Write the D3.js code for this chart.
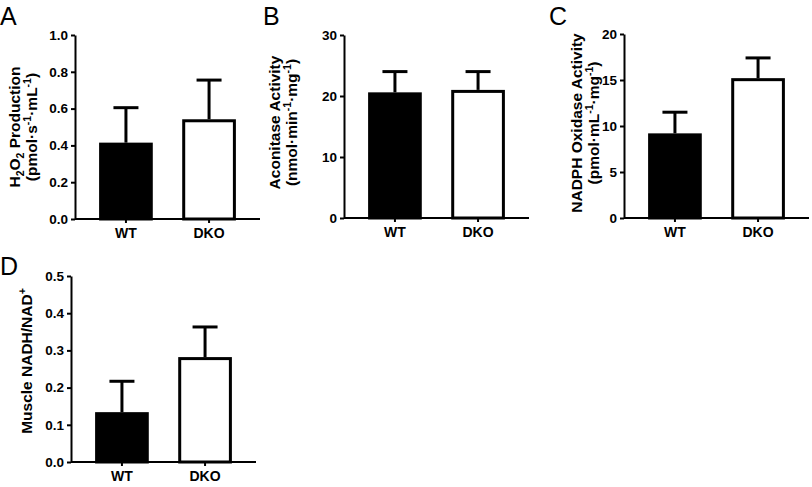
<!DOCTYPE html>
<html><head><meta charset="utf-8">
<script src="https://cdn.jsdelivr.net/npm/d3@7"></script>
<style>
html,body{margin:0;padding:0;background:#fff;}
svg{display:block;font-family:"Liberation Sans",Arial,sans-serif;}
</style></head>
<body>
<svg id="chart" width="812" height="487"></svg>
<script>
// ---- data ----
const groups = ["WT", "DKO"];
const h2o2Mean = [0.415, 0.542];
const h2o2Err = [0.19, 0.213];
const aconMean = [20.6, 21.0];
const aconErr = [3.4, 3.0];
const noxMean = [9.2, 15.2];
const noxErr = [2.3, 2.2];
const nadhMean = [0.134, 0.282];
const nadhErr = [0.083, 0.081];
const h2o2Ticks = [0, 0.2, 0.4, 0.6, 0.8, 1.0];
const aconTicks = [0, 10, 20, 30];
const noxTicks = [0, 5, 10, 15, 20];
const nadhTicks = [0, 0.1, 0.2, 0.3, 0.4, 0.5];
const fills = ["#000", "#fff"];

const svg = d3.select("#chart");
const FONT = '"Liberation Sans",Arial,sans-serif';

function panel(cfg){
  const g = svg.append("g");
  const x = d3.scaleBand().domain(groups).range([cfg.x0, cfg.x0 + 185]).paddingInner(0.354).paddingOuter(0.29);
  const y = d3.scaleLinear().domain([0, cfg.max]).range([cfg.yb, cfg.yt]);

  // bars
  g.selectAll("rect.bar").data(groups).enter().append("rect")
    .attr("x", d => x(d) + 1.5)
    .attr("width", x.bandwidth() - 3)
    .attr("y", (d,i) => y(cfg.mean[i]) + 1.5)
    .attr("height", (d,i) => y(0) - y(cfg.mean[i]) - 1.5)
    .attr("fill", (d,i) => fills[i])
    .attr("stroke", "#000").attr("stroke-width", 3);

  // error bars (upward only)
  groups.forEach((d,i) => {
    const cx = x(d) + x.bandwidth()/2;
    const top = y(cfg.mean[i] + cfg.err[i]);
    g.append("line").attr("x1", cx).attr("x2", cx)
      .attr("y1", y(cfg.mean[i])).attr("y2", top)
      .attr("stroke", "#000").attr("stroke-width", 3);
    g.append("line").attr("x1", cx - 12.5).attr("x2", cx + 12.5)
      .attr("y1", top).attr("y2", top)
      .attr("stroke", "#000").attr("stroke-width", 3);
  });

  // y axis
  const ya = g.append("g").attr("transform", `translate(${cfg.x0},0)`)
    .call(d3.axisLeft(y).tickValues(cfg.ticks).tickFormat(cfg.fmt).tickSize(4).tickSizeOuter(0).tickPadding(3));
  ya.select(".domain").attr("stroke-width", 2);
  ya.selectAll(".tick line").attr("stroke-width", 2);
  ya.selectAll("text").attr("font-size", 13.5).attr("font-weight", "bold").attr("fill", "#000")
    .attr("font-family", FONT);

  // x axis
  const xa = g.append("g").attr("transform", `translate(0,${cfg.yb})`)
    .call(d3.axisBottom(x).tickSize(4).tickSizeOuter(0).tickPadding(5));
  xa.select(".domain").attr("stroke-width", 2).attr("d", `M${cfg.x0},0H${cfg.x0 + 185}`);
  xa.selectAll(".tick line").attr("stroke-width", 2);
  xa.selectAll("text").attr("font-size", 14).attr("font-weight", "bold").attr("fill", "#000")
    .attr("font-family", FONT);

  // panel letter
  svg.append("text").attr("x", cfg.lx).attr("y", cfg.ly).attr("font-size", 25).text(cfg.letter);

  // y title
  const cy = (cfg.yt + cfg.yb)/2 + (cfg.tdy || 0);
  cfg.title.forEach((line, li) => {
    const t = svg.append("text")
      .attr("transform", `translate(${cfg.tx[li]},${cy}) rotate(-90)`)
      .attr("text-anchor", "middle").attr("font-size", 15.5).attr("font-weight", "bold");
    let pending = 0;
    line.forEach(seg => {
      if (typeof seg === "string") {
        t.append("tspan").attr("dy", pending).text(seg); pending = 0;
      } else if (seg.sub) {
        t.append("tspan").attr("font-size", 10.5).attr("dy", pending + 4).text(seg.sub); pending = -4;
      } else if (seg.sup) {
        t.append("tspan").attr("font-size", 10.5).attr("dy", pending - 6).text(seg.sup); pending = 6;
      }
    });
  });
}

const f1 = d3.format(".1f"), f0 = d3.format("d");

panel({letter:"A", lx:0, ly:25, x0:75, yt:35, yb:219, max:1.0, ticks:h2o2Ticks, fmt:f1,
  mean:h2o2Mean, err:h2o2Err, tx:[20, 37],
  title:[["H", {sub:"2"}, "O", {sub:"2"}, " Production"], ["(pmol\u00B7s", {sup:"-1"}, "\u00B7mL", {sup:"-1"}, ")"]]});
panel({letter:"B", lx:263, ly:25, x0:344, yt:35, yb:218, max:30, ticks:aconTicks, fmt:f0,
  mean:aconMean, err:aconErr, tx:[280, 297], tdy:-4,
  title:[["Aconitase Activity"], ["(nmol\u00B7min", {sup:"-1"}, "\u00B7mg", {sup:"-1"}, ")"]]});
panel({letter:"C", lx:549, ly:25, x0:624, yt:34, yb:218, max:20, ticks:noxTicks, fmt:f0,
  mean:noxMean, err:noxErr, tx:[582, 599], tdy:-3,
  title:[["NADPH Oxidase Activity"], ["(pmol\u00B7mL", {sup:"-1"}, "\u00B7mg", {sup:"-1"}, ")"]]});
panel({letter:"D", lx:0, ly:275, x0:71, yt:276, yb:462, max:0.5, ticks:nadhTicks, fmt:f1,
  mean:nadhMean, err:nadhErr, tx:[32], tdy:-8,
  title:[["Muscle NADH/NAD", {sup:"+"}]]});
</script>
</body></html>
